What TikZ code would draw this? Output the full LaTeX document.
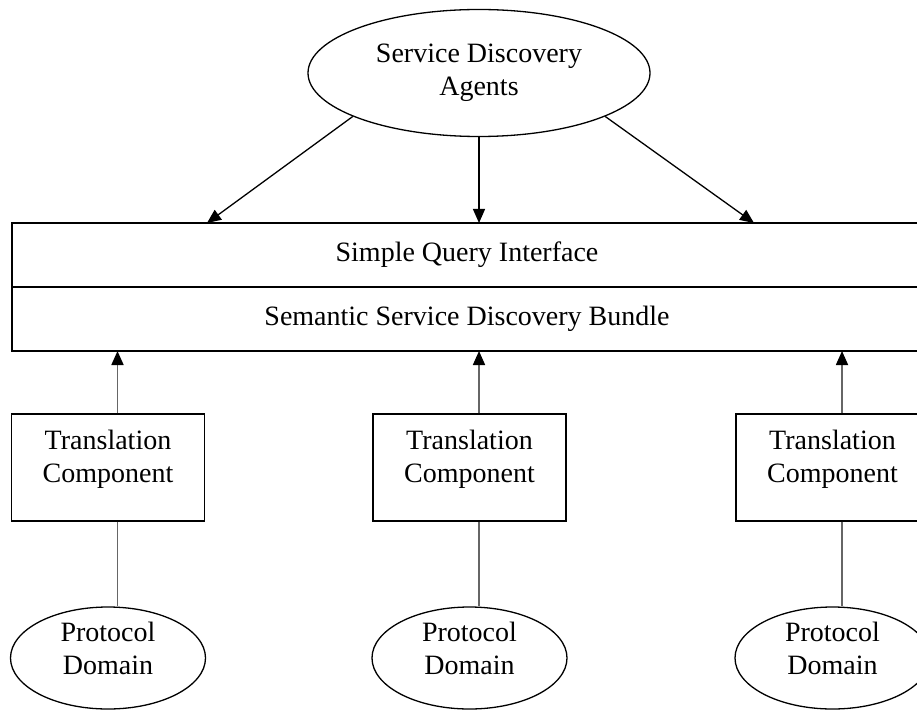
\documentclass[tikz,border=0pt]{standalone}
\usepackage{fontspec}
\setmainfont{Liberation Serif}
\usetikzlibrary{shapes.geometric,arrows.meta}

\begin{document}
\begin{tikzpicture}[x = 1pt, y = -1pt,
    every node/.style = {font = \fontsize{28}{33}\selectfont, align = center},
    box/.style = {shape = rectangle, draw = black, line width = 1.3pt},
    oval/.style = {shape = ellipse, draw = black, line width = 1.3pt},
    link/.style = {line width = 1.3pt,
                   -{Triangle[length = 14pt, width = 12pt, color = black]}}]
  \useasboundingbox (0,0) rectangle (917,711);
  \clip (0,0) rectangle (917,711);

  \node[oval, minimum width = 342pt, minimum height = 127pt]
    (sda) at (479,73) {Service Discovery\\Agents};
  \node[box, minimum width = 910pt, minimum height = 64pt]
    (sqi) at (467,255) {Simple Query Interface};
  \node[box, minimum width = 910pt, minimum height = 64pt]
    (ssdb) at (467,319) {Semantic Service Discovery Bundle};

  % agents down to the query interface
  \coordinate (inl) at (207,223);
  \coordinate (inm) at (479,223);
  \coordinate (inr) at (754,223);
  \draw[link] (sda.199) -- (inl);
  \draw[link] (sda.south) -- (inm);
  \draw[link] (sda.341) -- (inr);

  % three translation columns
  \foreach \i/\x in {1/108, 2/469.5, 3/832.5}
  {
    \node[box, minimum width = 193pt, minimum height = 107pt] (tc\i) at (\x,467.5) {};
    \node (tct\i) at ([yshift = 8pt]tc\i.center) {Translation\\Component};
    \node[oval, minimum width = 195pt, minimum height = 102pt] (pd\i) at (\x,658) {};
    \node (pdt\i) at ([yshift = 10pt]pd\i.center) {Protocol\\Domain};
    \coordinate (up\i) at (\x+9.5,351);
    \draw[link, draw = black!60, line width = 1.7pt] (tc\i.north -| up\i) -- (up\i);
    \draw[line width = 1.7pt, black!60] (tc\i.south -| up\i) -- (pd\i.north -| up\i);
  };
\end{tikzpicture}
\end{document}
